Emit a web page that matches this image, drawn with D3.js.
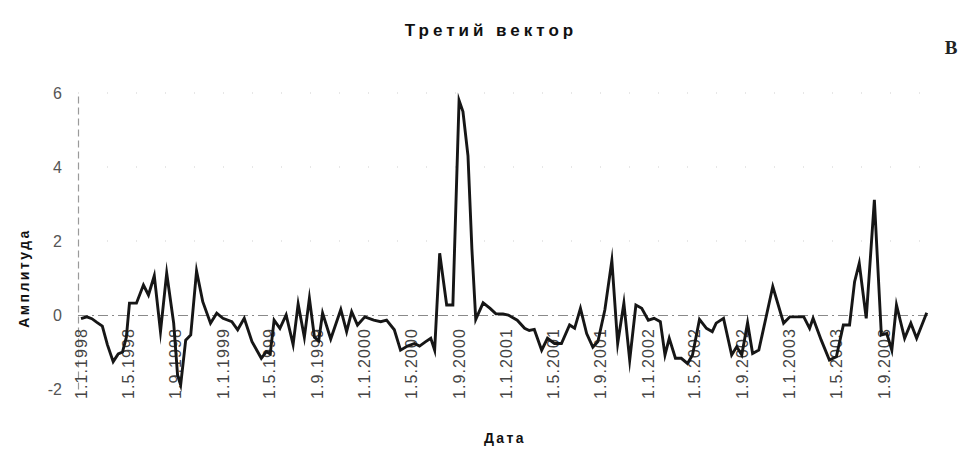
<!DOCTYPE html>
<html lang="ru">
<head>
<meta charset="utf-8">
<script src="https://cdn.jsdelivr.net/npm/d3@7/dist/d3.min.js"></script>
<style>
  html, body { margin: 0; padding: 0; background: #fff; }
  svg { display: block; }
</style>
</head>
<body>
<svg id="chart" width="968" height="449"></svg>
<script>
// Третий вектор: амплитуда по датам, 1998–2003
const dates = [
  "1998-01-01","1998-01-16","1998-01-29","1998-02-11","1998-02-25","1998-03-10","1998-03-25","1998-04-07",
  "1998-04-18","1998-04-28","1998-05-06","1998-05-24","1998-06-11","1998-06-24","1998-07-09","1998-07-25",
  "1998-08-10","1998-08-28","1998-09-07","1998-09-15","1998-09-28","1998-10-11","1998-10-26","1998-11-11",
  "1998-12-01","1998-12-17","1999-01-02","1999-01-25","1999-02-09","1999-02-26","1999-03-18","1999-04-11",
  "1999-04-24","1999-05-04","1999-05-14","1999-05-29","1999-06-14","1999-07-02","1999-07-15","1999-07-31",
  "1999-08-13","1999-08-26","1999-09-06","1999-09-16","1999-10-07","1999-11-02","1999-11-17","1999-11-30",
  "1999-12-15","2000-01-03","2000-01-26","2000-02-13","2000-02-28","2000-03-19","2000-04-04","2000-04-22",
  "2000-05-10","2000-05-23","2000-06-08","2000-06-21","2000-07-01","2000-07-14","2000-08-01","2000-08-17",
  "2000-09-02","2000-09-12","2000-09-25","2000-10-05","2000-10-15","2000-11-03","2000-11-21","2000-12-06",
  "2000-12-24","2001-01-07","2001-01-30","2001-02-18","2001-03-02","2001-03-15","2001-04-03","2001-04-18",
  "2001-05-06","2001-05-24","2001-06-14","2001-06-27","2001-07-12","2001-07-28","2001-08-13","2001-08-26",
  "2001-09-13","2001-10-01","2001-10-16","2001-11-01","2001-11-16","2001-12-02","2001-12-17","2002-01-03",
  "2002-01-18","2002-02-03","2002-02-15","2002-02-26","2002-03-14","2002-03-29","2002-04-14","2002-04-27",
  "2002-05-15","2002-06-02","2002-06-17","2002-06-27","2002-07-16","2002-08-06","2002-08-19","2002-09-01",
  "2002-09-16","2002-09-29","2002-10-15","2002-11-20","2002-12-18","2003-01-03","2003-01-22","2003-02-08",
  "2003-02-23","2003-03-04","2003-03-25","2003-04-15","2003-05-03","2003-05-21","2003-06-06","2003-06-19",
  "2003-07-01","2003-07-19","2003-08-09","2003-08-27","2003-09-10","2003-09-23","2003-10-05","2003-10-26",
  "2003-11-11","2003-11-26","2003-12-22"
];

const amplitude = [
  -0.10,-0.05,-0.10,-0.20,-0.30,-0.80,-1.26,-1.05,
  -1.00,-0.60, 0.32, 0.32, 0.81, 0.54, 1.06,-0.45,
   1.13,-0.22,-1.62,-1.89,-0.68,-0.54, 1.19, 0.36,
  -0.22, 0.05,-0.09,-0.18,-0.40,-0.09,-0.72,-1.17,
  -0.99,-1.05,-0.14,-0.36, 0.00,-0.80, 0.30,-0.60,
   0.45,-0.60,-0.70, 0.05,-0.65, 0.15,-0.45, 0.09,
  -0.27,-0.05,-0.14,-0.18,-0.14,-0.40,-0.95,-0.84,
  -0.77,-0.84,-0.72,-0.63,-0.95, 1.67, 0.27, 0.27,
   5.80, 5.50, 4.30, 1.80,-0.12, 0.33, 0.18, 0.03,
   0.03, 0.00,-0.14,-0.36,-0.42,-0.39,-0.95,-0.63,
  -0.77,-0.77,-0.27,-0.36, 0.18,-0.50,-0.87,-0.72,
   0.14, 1.47,-0.77, 0.32,-1.22, 0.27, 0.18,-0.14,
  -0.09,-0.18,-1.08,-0.63,-1.17,-1.17,-1.31,-1.08,
  -0.12,-0.36,-0.45,-0.22,-0.09,-1.08,-0.86,-1.08,
  -0.21,-1.04,-0.95, 0.77,-0.22,-0.05,-0.05,-0.05,
  -0.36,-0.09,-0.68,-1.22,-1.13,-0.27,-0.27, 0.90,
   1.40,-0.09, 3.11,-0.54,-0.50,-0.95, 0.27,-0.63,
  -0.22,-0.63, 0.06
];

const xTickLabels = [
  "1.1.1998","1.5.1998","1.9.1998","1.1.1999","1.5.1999","1.9.1999",
  "1.1.2000","1.5.2000","1.9.2000","1.1.2001","1.5.2001","1.9.2001",
  "1.1.2002","1.5.2002","1.9.2002","1.1.2003","1.5.2003","1.9.2003"
];
const yTicks = [-2, 0, 2, 4, 6];

const titleText = "Третий вектор";
const panelLetter = "В";
const yTitle = "Амплитуда";
const xTitle = "Дата";

const parseISO = d3.utcParse("%Y-%m-%d");
const parseDMY = d3.utcParse("%d.%m.%Y");
const series = dates.map((d, i) => ({ date: parseISO(d), value: amplitude[i] }));
const tickDates = xTickLabels.map(parseDMY);

const svg = d3.select("#chart");
const font = "'Liberation Sans', Arial, sans-serif";

const x = d3.scaleUtc()
  .domain([parseISO("1998-01-01"), parseISO("2004-01-01")])
  .range([81, 930.6]);
const y = d3.scaleLinear().domain([-2, 6]).range([389, 93]);

// faint dotted gridlines
svg.append("g")
  .selectAll("line")
  .data([2, 4, 6])
  .join("line")
  .attr("x1", 78).attr("x2", 930)
  .attr("y1", d => y(d)).attr("y2", d => y(d))
  .attr("stroke", "#cfcfcf")
  .attr("stroke-width", 1)
  .attr("stroke-dasharray", "1,28");

// y axis
const yAxis = svg.append("g")
  .attr("transform", "translate(78,0)")
  .call(d3.axisLeft(y).tickValues(yTicks).tickSize(0).tickPadding(16)
    .tickFormat(d => String(d)));
yAxis.select(".domain")
  .attr("stroke", "#9a9a9a")
  .attr("stroke-width", 1.2)
  .attr("stroke-dasharray", "7,4");
yAxis.selectAll("text")
  .attr("font-family", font)
  .attr("font-size", 16)
  .attr("fill", "#555");

// x axis along zero, labels hanging below
const xAxis = svg.append("g")
  .attr("transform", `translate(0,${y(0)})`)
  .call(d3.axisBottom(x).tickValues(tickDates).tickSize(0)
    .tickFormat((d, i) => xTickLabels[i]));
xAxis.select(".domain")
  .attr("d", `M78,0.5H930`)
  .attr("stroke", "#8a8a8a")
  .attr("stroke-width", 1.2)
  .attr("stroke-dasharray", "10,4,2,4");
xAxis.selectAll("text")
  .attr("font-family", font)
  .attr("font-size", 16)
  .attr("letter-spacing", "1.1px")
  .attr("fill", "#444")
  .attr("transform", "rotate(-90)")
  .attr("text-anchor", "end")
  .attr("x", -13)
  .attr("y", 0)
  .attr("dy", "0.36em");

// amplitude line
const line = d3.line()
  .x(d => x(d.date))
  .y(d => y(d.value));
svg.append("path")
  .datum(series)
  .attr("d", line)
  .attr("fill", "none")
  .attr("stroke", "#161616")
  .attr("stroke-width", 2.9)
  .attr("stroke-linejoin", "miter")
  .attr("stroke-miterlimit", 10);

// titles
svg.append("text")
  .attr("x", 491).attr("y", 36)
  .attr("text-anchor", "middle")
  .attr("font-family", font)
  .attr("font-weight", "bold")
  .attr("font-size", 17)
  .attr("letter-spacing", "4px")
  .attr("fill", "#111")
  .text(titleText);

svg.append("text")
  .attr("x", 951).attr("y", 54)
  .attr("text-anchor", "middle")
  .attr("font-family", "'Liberation Serif', 'DejaVu Serif', serif")
  .attr("font-weight", "bold")
  .attr("font-size", 19)
  .attr("fill", "#222")
  .text(panelLetter);

svg.append("text")
  .attr("transform", "translate(29,278) rotate(-90)")
  .attr("text-anchor", "middle")
  .attr("font-family", font)
  .attr("font-weight", "bold")
  .attr("font-size", 14)
  .attr("letter-spacing", "2.4px")
  .attr("fill", "#111")
  .text(yTitle);

svg.append("text")
  .attr("x", 505).attr("y", 443)
  .attr("text-anchor", "middle")
  .attr("font-family", font)
  .attr("font-weight", "bold")
  .attr("font-size", 14)
  .attr("letter-spacing", "2.4px")
  .attr("fill", "#111")
  .text(xTitle);
</script>
</body>
</html>
